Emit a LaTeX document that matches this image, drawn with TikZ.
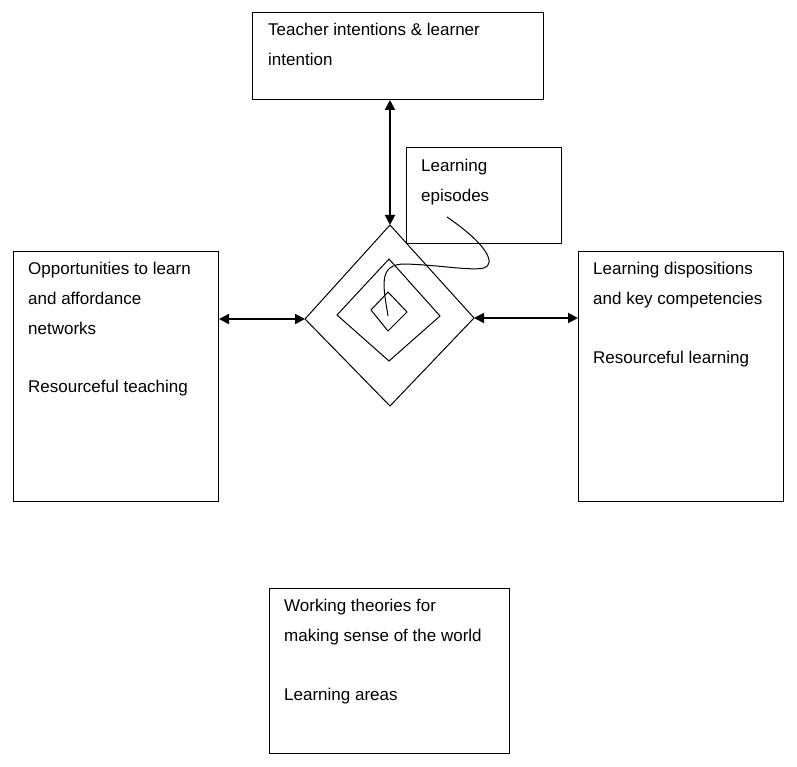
\documentclass[tikz,border=0pt]{standalone}
\usepackage{fontspec}
\setmainfont{Liberation Sans}
\usetikzlibrary{arrows.meta}

\tikzset{
	box/.style={draw, line width=1pt, anchor=north west, inner sep=0pt},
	txt/.style={anchor=north west, align=left, inner sep=0pt, font=\fontsize{17}{30}\selectfont},
	dbl/.style={line width=2pt, {Triangle[length=10pt,width=10pt]}-{Triangle[length=10pt,width=10pt]}},
	spiral/.style={line width=1pt}
}

\begin{document}
\begin{tikzpicture}[x=1pt, y=-1pt]
				\useasboundingbox (0,0) rectangle (797,767);
				
				% boxes
				\node[box, minimum width=291pt, minimum height=87pt] (tch) at (252,12) {};
				\node[txt] (tcht) at ([shift={(16,10.5)}]tch.north west) {Teacher intentions \& learner\\intention};
				
				\node[box, minimum width=155pt, minimum height=96pt] (epi) at (406,147) {};
				\node[txt] (epit) at ([shift={(15,11.5)}]epi.north west) {Learning\\episodes};
				
				\node[box, minimum width=205pt, minimum height=250pt] (opp) at (13,251) {};
				\node[txt] (oppt) at ([shift={(15,10.5)}]opp.north west) {Opportunities to learn\\and affordance\\networks\\[28pt]Resourceful teaching};
				
				\node[box, minimum width=205pt, minimum height=250pt] (dis) at (578,251) {};
				\node[txt] (dist) at ([shift={(15,10.5)}]dis.north west) {Learning dispositions\\and key competencies\\[29pt]Resourceful learning};
				
				\node[box, minimum width=240pt, minimum height=165pt] (wrk) at (269,588) {};
				\node[txt] (wrkt) at ([shift={(15,10.5)}]wrk.north west) {Working theories for\\making sense of the world\\[29pt]Learning areas};
				
				% diamonds
				\coordinate (dt) at (390,225);
				\coordinate (dr) at (474,318);
				\coordinate (db) at (390,406);
				\coordinate (dl) at (305,319);
				\draw[spiral] (dt) -- (dr) -- (db) -- (dl) -- cycle;
				\draw[spiral] (389,259) -- (440,316) -- (389,361) -- (337,315) -- cycle;
				\draw[spiral] (388,292) -- (407,312) -- (388,331) -- (371,310) -- cycle;
				
				% curve out of the centre
				\draw[line width=1pt] (388,316) .. controls (383,285) and (378,264) .. (405,264)
					.. controls (440,265) and (470,271) .. (484,268)
					.. controls (496,264) and (488,245) .. (447,217);
				
				% arrows
				\draw[dbl] (tch.south -| dt) -- (dt);
				\draw[dbl] (dl -| opp.east) -- (dl);
				\draw[dbl] (dr) -- (dr -| dis.west);
\end{tikzpicture}
\end{document}
